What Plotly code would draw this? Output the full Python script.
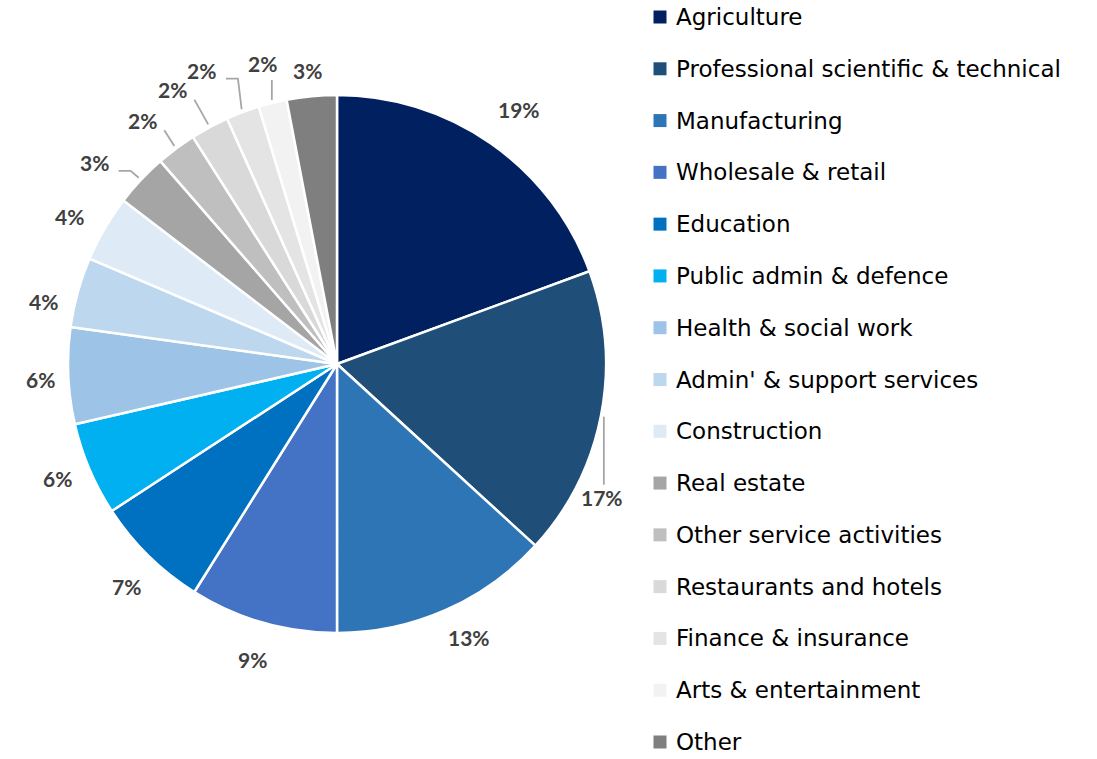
import math
import plotly.graph_objects as go

# Share of employment by sector (percent)
sectors = [
    "Agriculture",
    "Professional scientific & technical",
    "Manufacturing",
    "Wholesale & retail",
    "Education",
    "Public admin & defence",
    "Health & social work",
    "Admin' & support services",
    "Construction",
    "Real estate",
    "Other service activities",
    "Restaurants and hotels",
    "Finance & insurance",
    "Arts & entertainment",
    "Other",
]
shares = [19.4, 17.4, 13.2, 8.9, 6.9, 5.6, 5.8, 4.2, 4.0, 3.2, 2.4, 2.3, 2.0, 1.7, 3.0]

colors = [
    "#002060", "#1F4E79", "#2E75B6", "#4472C4", "#0070C0", "#00B0F0",
    "#9DC3E6", "#BDD7EE", "#DEEBF7", "#A5A5A5", "#BFBFBF", "#D9D9D9",
    "#E4E4E4", "#F2F2F2", "#7F7F7F",
]

# Label placement: extra radial distance (px) and angular shift (deg); leader flag
label_extra = [8, -8, -1, 2, 1, -3, -8, -5, 0, 10, 7, 15, 18, 5, -10]
label_shift = [0.6, 15.6, -2, 0, -1, 0.8, -0.5, -3.5, -1.4, -3.5, -1.9, -2.7, -4.2, 0, -0.4]
with_leader = [False, True, False, False, False, False, False, False, False,
               True, True, True, True, True, False]

W, H = 1097, 759
CX, CY, R = 337, 364, 269
LABEL_R = 305


def px(x, y):
    return x / W, 1 - y / H


fig = go.Figure()
fig.add_trace(go.Pie(
    labels=sectors,
    values=shares,
    sort=False,
    direction="clockwise",
    rotation=0,
    marker=dict(colors=colors, line=dict(color="white", width=2.5)),
    textinfo="none",
    hoverinfo="label+percent",
    showlegend=False,
    domain=dict(x=[(CX - R) / W, (CX + R) / W],
                y=[1 - (CY + R) / H, 1 - (CY - R) / H]),
))

total = sum(shares)
annotations = []
shapes = []
cum = 0.0
for i, v in enumerate(shares):
    mid = (cum + v / 2) / total * 360.0
    cum += v
    ang = math.radians(mid + label_shift[i])
    rr = LABEL_R + label_extra[i]
    lx = CX + rr * math.sin(ang)
    ly = CY - rr * math.cos(ang)
    pct = round(v / total * 100)
    x, y = px(lx, ly)
    annotations.append(dict(
        x=x, y=y, xref="paper", yref="paper", text=f"{pct}%", showarrow=False,
        xanchor="center", yanchor="middle",
        font=dict(family="Lato", size=21, color="#404040", weight="bold"),
    ))
    if with_leader[i]:
        m = math.radians(mid)
        ex = CX + (R + 3) * math.sin(m)
        ey = CY - (R + 3) * math.cos(m)
        hw, hh = 21, 11
        if lx - hw <= ex <= lx + hw:
            if ey > ly:
                pts = [(ex, ly + hh + 6), (ex, ey)]
            else:
                pts = [(ex, ey), (ex, ly - hh - 2)]
        else:
            ax = lx + hw + 3
            ay = ly + 8
            elbow = ax + 12
            if elbow > ex:
                pts = [(ax - 2, ay + 2), (ex, ey)]
            else:
                pts = [(ax, ay), (elbow, ay), (ex, ey)]
        path = "M " + " L ".join(f"{px(a, b)[0]},{px(a, b)[1]}" for a, b in pts)
        shapes.append(dict(type="path", path=path, xref="paper", yref="paper",
                           line=dict(color="#A6A6A6", width=1.8)))

# Legend drawn as a column of swatches and names
LEG_X, LEG_Y0, LEG_Y1, SW = 660, 17, 742, 13
LEG_DY = (LEG_Y1 - LEG_Y0) / (len(sectors) - 1)
for i, name in enumerate(sectors):
    cy = LEG_Y0 + i * LEG_DY
    x0, y0 = px(LEG_X - SW / 2, cy - SW / 2)
    x1, y1 = px(LEG_X + SW / 2, cy + SW / 2)
    shapes.append(dict(type="rect", xref="paper", yref="paper",
                       x0=x0, x1=x1, y0=y1, y1=y0,
                       fillcolor=colors[i], line=dict(width=0)))
    tx, ty = px(LEG_X + 15, cy)
    annotations.append(dict(
        x=tx, y=ty, xref="paper", yref="paper", text=name, showarrow=False,
        xanchor="left", yanchor="middle", borderpad=0,
        font=dict(family="DejaVu Sans", size=23, color="#000000"),
    ))

fig.update_layout(
    width=W, height=H,
    margin=dict(l=0, r=0, t=0, b=0),
    paper_bgcolor="white",
    plot_bgcolor="white",
    annotations=annotations,
    shapes=shapes,
)

fig.write_html("out.html")
